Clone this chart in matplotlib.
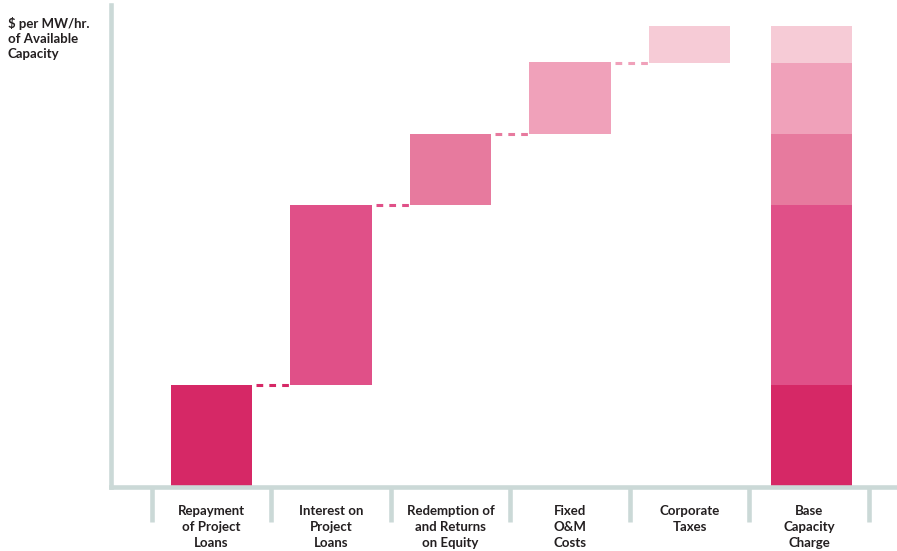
import matplotlib

matplotlib.use("Agg")
import matplotlib.pyplot as plt

plt.rcParams["font.family"] = ["Lato", "DejaVu Sans"]

CATEGORIES = [
    "Repayment\nof Project\nLoans",
    "Interest on\nProject\nLoans",
    "Redemption of\nand Returns\non Equity",
    "Fixed\nO&M\nCosts",
    "Corporate\nTaxes",
    "Base\nCapacity\nCharge",
]
# step sizes ($ per MW/hr, unscaled – the chart shows no y values)
STEPS = [10.2, 18.0, 7.1, 7.1, 3.6]
COLORS = ["#D62866", "#E05088", "#E77A9E", "#F0A1BA", "#F6CBD6"]
AXIS_GREY = "#CBD9D7"
TEXT = "#231F20"

fig = plt.figure(figsize=(8.97, 5.51), dpi=100)
ax = fig.add_axes([111 / 897, 64.5 / 551, (897 - 111) / 897, 481.5 / 551])

width = 0.68
total_x = len(STEPS) + 0.02
bottom = 0.0
for i, (step, color) in enumerate(zip(STEPS, COLORS)):
    # floating step
    ax.bar(i, step, bottom=bottom, width=width, color=color, zorder=1)
    # stacked total
    ax.bar(total_x, step, bottom=bottom, width=width, color=color, zorder=1)
    top = bottom + step
    if i < len(STEPS) - 1:
        ax.plot([i + width / 2 + 0.035, i + 1 - width / 2], [top, top],
                color=color, lw=2.2, linestyle=(0, (2.2, 2.0)),
                solid_capstyle="butt", dash_capstyle="butt", zorder=1)
    bottom = top

ax.set_xlim(-0.841, 5.736)
ax.set_ylim(0, 48.15)

for side in ("top", "right"):
    ax.spines[side].set_visible(False)
for side in ("left", "bottom"):
    ax.spines[side].set_color(AXIS_GREY)
    ax.spines[side].set_linewidth(3.3)
    ax.spines[side].set_capstyle("projecting")

ax.set_yticks([])
boundaries = [i - 0.5 for i in range(len(CATEGORIES) + 1)]
ax.set_xticks(boundaries)
ax.set_xticklabels([])
ax.tick_params(axis="x", which="major", length=25, width=3.3,
               color=AXIS_GREY, direction="out")
ax.set_xticks(range(len(CATEGORIES)), minor=True)
ax.set_xticklabels(CATEGORIES, minor=True, fontsize=9.5, fontweight="bold",
                   color=TEXT, linespacing=1.37)
ax.tick_params(axis="x", which="minor", length=0, pad=13.5)

fig.text(8 / 897, 1 - 16.5 / 551, "$ per MW/hr.\nof Available\nCapacity",
         ha="left", va="top", fontsize=9.5, fontweight="bold", color=TEXT,
         linespacing=1.31)

fig.savefig("out.png", dpi=100)
